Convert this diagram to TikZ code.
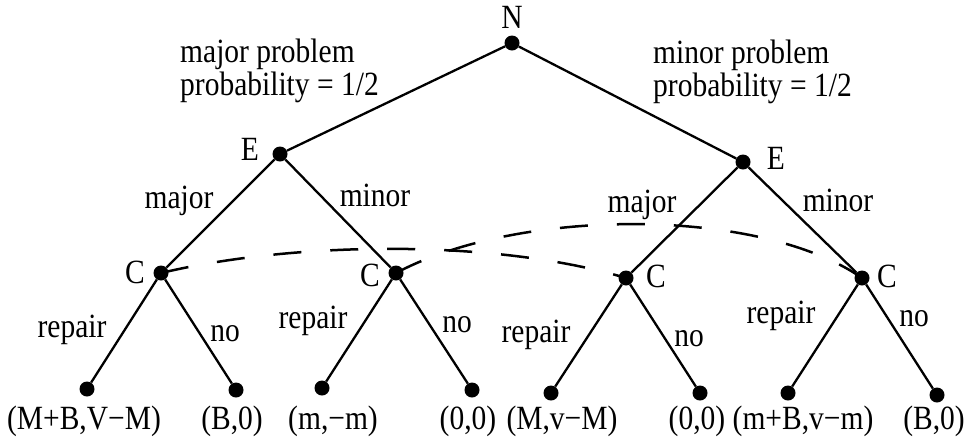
\documentclass[tikz,border=0pt]{standalone}
\usepackage{fontspec}
\setmainfont{Liberation Serif}
\newcommand{\tall}[1]{\scalebox{1}[1.15]{#1}}
\begin{document}
\begin{tikzpicture}[x=1pt,y=-1pt,
  dot/.style={circle,fill=black,draw=none,minimum size=15pt,inner sep=0pt},
  edge/.style={line width=2.3pt},
  infoset/.style={line width=2.5pt,dash pattern=on 28pt off 29pt},
  lbl/.style={anchor=base,inner sep=0pt,font=\fontsize{29.5}{33}\selectfont},
  blk/.style={anchor=north west,inner sep=0pt,align=left,font=\fontsize{29.5}{33}\selectfont}]
\useasboundingbox (0,0) rectangle (969,440);
% decision nodes
\node[dot] (N)  at (512,43) {};
\node[dot] (EL) at (280,154) {};
\node[dot] (ER) at (743,162) {};
\node[dot] (C1) at (161,273) {};
\node[dot] (C2) at (396,273) {};
\node[dot] (C3) at (626,278) {};
\node[dot] (C4) at (862,278) {};
\node[dot] (L1) at (87,389) {};
\node[dot] (L2) at (236,390) {};
\node[dot] (L3) at (322,388) {};
\node[dot] (L4) at (472,390) {};
\node[dot] (L5) at (551,393) {};
\node[dot] (L6) at (700,393) {};
\node[dot] (L7) at (788,393) {};
\node[dot] (L8) at (937,395) {};
% edges
\draw[edge] (N) -- (EL);
\draw[edge] (N) -- (ER);
\draw[edge] (EL) -- (C1);
\draw[edge] (EL) -- (C2);
\draw[edge] (ER) -- (C3);
\draw[edge] (ER) -- (C4);
\draw[edge] (C1) -- (L1);
\draw[edge] (C1) -- (L2);
\draw[edge] (C2) -- (L3);
\draw[edge] (C2) -- (L4);
\draw[edge] (C3) -- (L5);
\draw[edge] (C3) -- (L6);
\draw[edge] (C4) -- (L7);
\draw[edge] (C4) -- (L8);
% information sets
\draw[infoset] (C1.center) .. controls (300,240) and (500,240) .. (C3.center);
\draw[infoset] (C2.center) .. controls (520,207) and (760,207) .. (C4.center);
% player labels
\node[lbl] (tN)  at (512,28) {\tall{N}};
\node[lbl] (tEL) at (250,160) {\tall{E}};
\node[lbl] (tER) at (776,169) {\tall{E}};
\node[lbl] (tC1) at (135,283) {\tall{C}};
\node[lbl] (tC2) at (370,286) {\tall{C}};
\node[lbl] (tC3) at (656,287) {\tall{C}};
\node[lbl] (tC4) at (887,287) {\tall{C}};
% chance labels
\node[blk] (pL) at (180,39) {\tall{major problem}\\\tall{probability = 1/2}};
\node[blk] (pR) at (653,40) {\tall{minor problem}\\\tall{probability = 1/2}};
% action labels
\node[lbl] (aEL1) at (179,208) {\tall{major}};
\node[lbl] (aEL2) at (375,206) {\tall{minor}};
\node[lbl] (aER1) at (642,212) {\tall{major}};
\node[lbl] (aER2) at (838,211) {\tall{minor}};
\node[lbl] (r1) at (72,337) {\tall{repair}};
\node[lbl] (n1) at (225,341) {\tall{no}};
\node[lbl] (r2) at (313,328) {\tall{repair}};
\node[lbl] (n2) at (457,332) {\tall{no}};
\node[lbl] (r3) at (536,342) {\tall{repair}};
\node[lbl] (n3) at (689,346) {\tall{no}};
\node[lbl] (r4) at (781,323) {\tall{repair}};
\node[lbl] (n4) at (914,326) {\tall{no}};
% payoffs
\node[lbl] (y1) at (84,429) {\tall{(M+B,V−M)}};
\node[lbl] (y2) at (232,429) {\tall{(B,0)}};
\node[lbl] (y3) at (333,429) {\tall{(m,−m)}};
\node[lbl] (y4) at (468,429) {\tall{(0,0)}};
\node[lbl] (y5) at (562,429) {\tall{(M,v−M)}};
\node[lbl] (y6) at (697,429) {\tall{(0,0)}};
\node[lbl] (y7) at (803,429) {\tall{(m+B,v−m)}};
\node[lbl] (y8) at (934,429) {\tall{(B,0)}};
\end{tikzpicture}
\end{document}
